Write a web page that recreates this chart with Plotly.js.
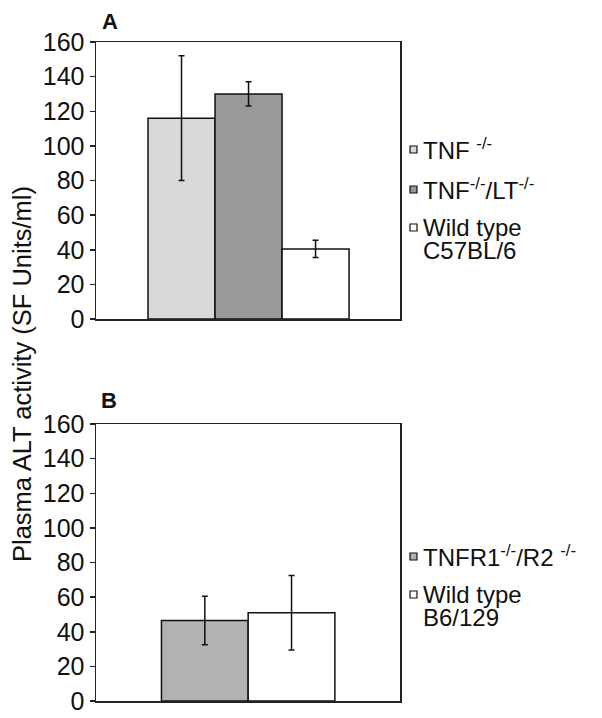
<!DOCTYPE html>
<html>
<head>
<meta charset="utf-8">
<script src="https://cdn.plot.ly/plotly-3.0.1.min.js"></script>
<style>html,body{margin:0;padding:0;background:#fff;}#chart{width:602px;height:718px;}</style>
</head>
<body>
<div id="chart"></div>
<script>
// ---- Data ----
const groupsA = ["TNF -/-", "TNF-/-/LT-/-", "Wild type C57BL/6"];
const valuesA = [116, 130, 40.5];
const errorsA = [36, 7, 5];
const legendA = ["TNF <sup>-/-</sup>", "TNF<sup>-/-</sup>/LT<sup>-/-</sup>", "Wild type", "C57BL/6"];

const groupsB = ["TNFR1-/-/R2 -/-", "Wild type B6/129"];
const valuesB = [46.5, 51];
const errorsB = [14, 21.5];
const legendB = ["TNFR1<sup>-/-</sup>/R2 <sup>-/-</sup>", "Wild type", "B6/129"];

const yTitle = "Plasma ALT activity (SF Units/ml)";
const panelLabels = ["A", "B"];

// ---- Styles ----
const colorsA = ["#d9d9d9", "#999999", "#ffffff"];
const colorsB = ["#b2b2b2", "#ffffff"];
const FONT = "Liberation Sans, Arial, sans-serif";
const W = 602, H = 718, ML = 96, MR = 202, MT = 42, MB = 17;
const PW = W - ML - MR, PH = H - MT - MB;
const px = x => (x - ML) / PW;
const py = y => (H - MB - y) / PH;

const traces = [
  {
    type: "bar", x: groupsA.map((_, i) => i), y: valuesA,
    marker: {color: colorsA, line: {color: "#111", width: 1.5}},
    error_y: {type: "data", array: errorsA, visible: true, color: "#111", thickness: 1.5, width: 3},
    xaxis: "x", yaxis: "y", width: 1, hoverinfo: "skip", showlegend: false
  },
  {
    type: "bar", x: groupsB.map((_, i) => i), y: valuesB,
    marker: {color: colorsB, line: {color: "#111", width: 1.5}},
    error_y: {type: "data", array: errorsB, visible: true, color: "#111", thickness: 1.5, width: 3},
    xaxis: "x2", yaxis: "y2", width: 1, hoverinfo: "skip", showlegend: false
  }
];

const yax = {
  range: [0, 160], dtick: 20, ticks: "outside", ticklen: 5, tickwidth: 1.5, tickcolor: "#222",
  showline: true, linecolor: "#222", linewidth: 1.5, mirror: true, showgrid: false, zeroline: false,
  tickfont: {family: FONT, size: 25, color: "#111"}, fixedrange: true
};
const xax = {
  showticklabels: false, ticks: "", showline: true, linecolor: "#222", linewidth: 1.5, mirror: true,
  showgrid: false, zeroline: false, fixedrange: true
};

const annotations = [];
const shapes = [];
function legendItem(text, y, color) {
  annotations.push({xref: "paper", yref: "paper", x: px(421), y: py(y), xanchor: "left", yanchor: "middle",
    text: text, showarrow: false, font: {family: FONT, size: 24, color: "#111"}});
  if (color) {
    shapes.push({type: "rect", xref: "paper", yref: "paper", x0: px(410), x1: px(417), y0: py(y + 4), y1: py(y - 3),
      fillcolor: color, line: {color: "#111", width: 1.2}});
  }
}
legendItem(legendA[0], 149, colorsA[0]);
legendItem(legendA[1], 189, colorsA[1]);
legendItem(legendA[2], 227, colorsA[2]);
legendItem(legendA[3], 250, null);
legendItem(legendB[0], 556, colorsB[0]);
legendItem(legendB[1], 594, colorsB[1]);
legendItem(legendB[2], 617, null);

annotations.push({xref: "paper", yref: "paper", x: px(110), y: py(21), xanchor: "center", yanchor: "middle",
  text: "<b>" + panelLabels[0] + "</b>", showarrow: false, font: {family: FONT, size: 22, color: "#111"}});
annotations.push({xref: "paper", yref: "paper", x: px(109), y: py(400), xanchor: "center", yanchor: "middle",
  text: "<b>" + panelLabels[1] + "</b>", showarrow: false, font: {family: FONT, size: 22, color: "#111"}});
annotations.push({xref: "paper", yref: "paper", x: px(22), y: py(374), xanchor: "center", yanchor: "middle",
  text: yTitle, textangle: -90, showarrow: false, font: {family: FONT, size: 25.5, color: "#111"}});

const layout = {
  width: W, height: H, margin: {l: ML, r: MR, t: MT, b: MB},
  paper_bgcolor: "#fff", plot_bgcolor: "#fff", showlegend: false, bargap: 0,
  xaxis: Object.assign({}, xax, {domain: [0, 1], range: [-1.276, 3.26], anchor: "y"}),
  yaxis: Object.assign({}, yax, {domain: [py(319), 1], anchor: "x"}),
  xaxis2: Object.assign({}, xax, {domain: [0, 1], range: [-1.255, 2.251], anchor: "y2"}),
  yaxis2: Object.assign({}, yax, {domain: [0, py(424)], anchor: "x2"}),
  annotations: annotations, shapes: shapes
};

Plotly.newPlot("chart", traces, layout, {staticPlot: true, displayModeBar: false});
</script>
</body>
</html>
